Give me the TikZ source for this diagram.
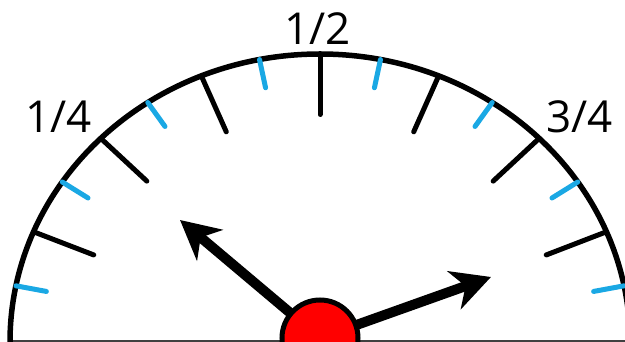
\documentclass[tikz,border=0pt]{standalone}
\usepackage{fontspec}
\setmainfont{Open Sans}
\usetikzlibrary{arrows.meta}
\definecolor{tickblue}{RGB}{26,168,228}
\begin{document}
\begin{tikzpicture}[x=1pt,y=1pt,line cap=round,
  majortick/.style={black,line width=5pt},
  minortick/.style={tickblue,line width=5pt},
  needle/.style={line width=10pt,line cap=butt,-{Stealth[length=39pt,width=40pt,inset=12pt]}},
  fraclabel/.style={anchor=base,inner sep=0pt,font=\fontsize{44}{50}\selectfont}]
\useasboundingbox (0,0) rectangle (625,342);
\coordinate (dialcenter) at (320,0);
\coordinate (hub) at (320,4);
\draw[black!75,line width=1.5pt] (10,1) -- (630,1);
\draw[line width=5.5pt] ([shift={(dialcenter)}]180:310 and 288) arc[start angle=180,end angle=0,x radius=310,y radius=288];
\foreach \k in {1,3,...,15}
  \draw[minortick] ([shift={(dialcenter)}]{\k*11.25}:310 and 288) -- ([shift={(dialcenter)}]{\k*11.25}:279 and 259.2);
\foreach \k in {2,4,...,14}
  \draw[majortick] ([shift={(dialcenter)}]{\k*11.25}:310 and 288) -- ([shift={(dialcenter)}]{\k*11.25}:244.9 and 227.5);
\node[fraclabel] (quarter) at (58.5,209) {1/4};
\node[fraclabel] (half) at (317.5,297) {1/2};
\node[fraclabel] (threequarter) at (579.5,209) {3/4};
\coordinate (tipA) at (180,122);
\coordinate (tipB) at (491,65);
\draw[needle] (hub) -- (tipA);
\draw[needle] (hub) -- (tipB);
\node[circle,fill=red,draw=black,line width=5pt,minimum size=76pt,inner sep=0pt] (cap) at (hub) {};
\end{tikzpicture}
\end{document}
